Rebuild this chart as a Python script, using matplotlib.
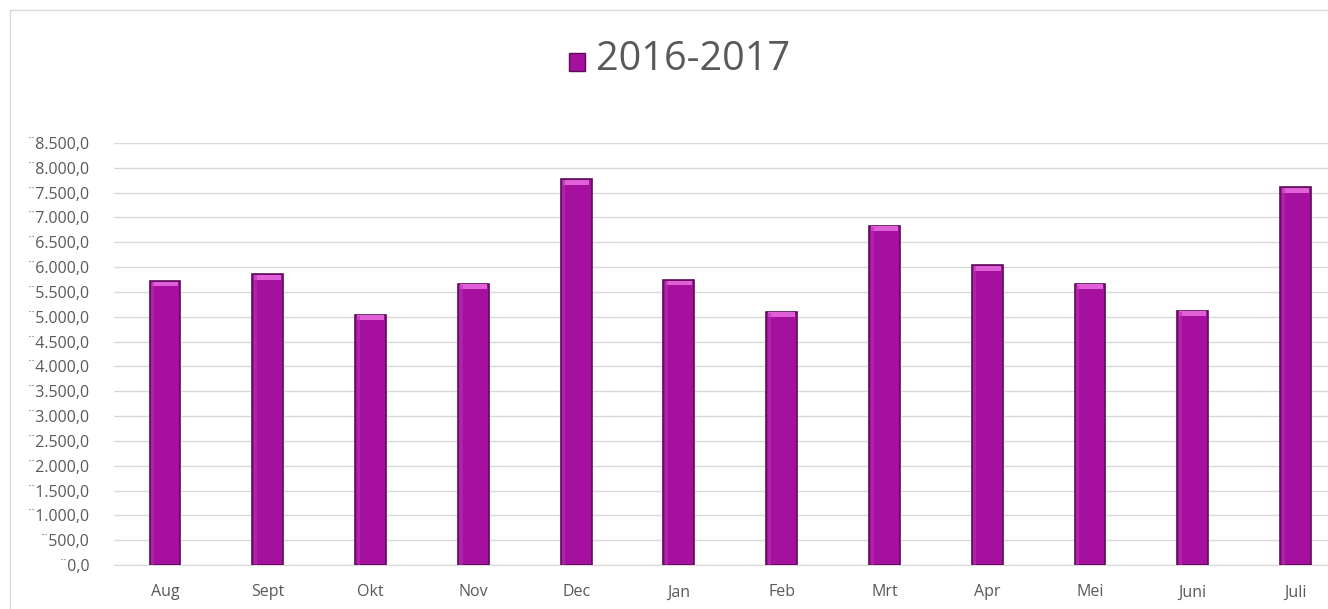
import numpy as np
import matplotlib
matplotlib.use("Agg")
from matplotlib import pyplot as plt
from matplotlib.patches import Rectangle

months = ["Aug", "Sept", "Okt", "Nov", "Dec", "Jan", "Feb", "Mrt", "Apr", "Mei", "Juni", "Juli"]
values = [5720, 5860, 5040, 5660, 7770, 5740, 5100, 6830, 6040, 5660, 5120, 7610]
yticks = list(range(0, 8501, 500))
ytick_labels = ["\u00a8" + f"{v:,.1f}".replace(",", "X").replace(".", ",").replace("X", ".") for v in yticks]
series_name = "2016-2017"

plt.rcParams['font.family'] = ['Open Sans', 'DejaVu Sans']
grey = "#595959"
bar_col = "#A6109F"
edge_col = "#5E0A5A"

fig = plt.figure(figsize=(13.28, 6.09), dpi=100)
ax = fig.add_axes([0.0855, 0.0722, 0.9288, 0.693])

x = np.arange(len(months))
ax.bar(x, values, width=0.3, color=bar_col, edgecolor=edge_col, linewidth=1.2, zorder=3)
# bevel highlight at the top of each bar
for xi, v in zip(x, values):
    ax.add_patch(Rectangle((xi - 0.13, v - 110), 0.26, 100, facecolor="#E060D8",
                           edgecolor="none", zorder=4))
    ax.add_patch(Rectangle((xi - 0.135, 0), 0.03, v - 20, facecolor="#B830B0",
                           edgecolor="none", zorder=4, alpha=0.6))

ax.set_xlim(-0.5, len(months) - 0.5)
ax.set_ylim(0, 8500)
ax.set_yticks(yticks)
ax.set_yticklabels(ytick_labels)
ax.set_xticks(x)
ax.set_xticklabels(months)
ax.tick_params(axis="both", length=0, colors=grey, labelsize=11.5)
ax.tick_params(axis="y", pad=17)
ax.tick_params(axis="x", pad=14)
ax.yaxis.grid(True, color="#D9D9D9", linewidth=1, zorder=0)
ax.set_axisbelow(True)
for s in ["top", "right", "left"]:
    ax.spines[s].set_visible(False)
ax.spines["bottom"].set_color("#D9D9D9")

# legend-style title
fig.patches.append(Rectangle((569 / 1328, 1 - 71 / 609), 16 / 1328, 18 / 609,
                             transform=fig.transFigure, facecolor=bar_col,
                             edgecolor=edge_col, linewidth=1))
fig.text(596 / 1328, 1 - 60 / 609, series_name, fontsize=28.5, color=grey,
         va="center", ha="left")

# chart border
fig.add_artist(plt.Line2D([10 / 1328, 10 / 1328], [0, 1 - 10 / 609], transform=fig.transFigure,
                          color="#D9D9D9", linewidth=1))
fig.add_artist(plt.Line2D([10 / 1328, 1], [1 - 10 / 609, 1 - 10 / 609], transform=fig.transFigure,
                          color="#D9D9D9", linewidth=1))

fig.savefig("out.png", dpi=100)
